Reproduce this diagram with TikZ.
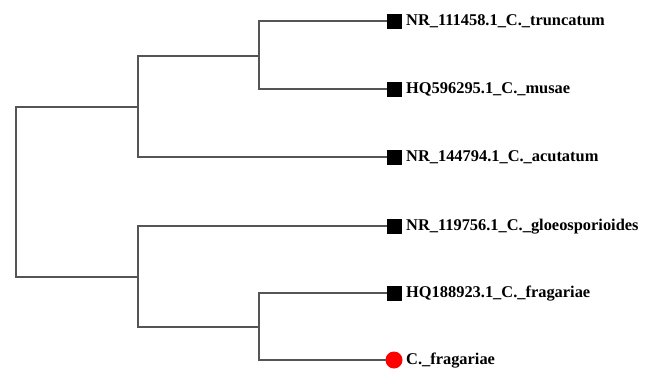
\documentclass[tikz,border=0pt]{standalone}
\usepackage{fontspec}
\setmainfont{Liberation Serif}
\definecolor{branchgray}{HTML}{555555}
\begin{document}
\begin{tikzpicture}[x=1pt,y=-1pt,
  branch/.style={draw=branchgray, line width=1.3pt, line cap=rect},
  sq/.style={rectangle, fill=black, minimum width=15pt, minimum height=15pt, inner sep=0pt},
  reddot/.style={circle, fill=red, minimum size=17pt, inner sep=0pt},
  lbl/.style={anchor=base west, inner sep=0pt, font=\bfseries\fontsize{16.4}{16.4}\selectfont}]
\useasboundingbox (0,0) rectangle (652,372);
% internal nodes
\coordinate (root) at (16,107);
\coordinate (rootB) at (16,277);
\coordinate (A) at (138,107);
\coordinate (A1) at (259,56);
\coordinate (B) at (138,277);
\coordinate (B1) at (259,327);
% leaf markers
\node[sq] (m1) at (394,21) {};
\node[sq] (m2) at (394,89) {};
\node[sq] (m3) at (394,157) {};
\node[sq] (m4) at (394,226) {};
\node[sq] (m5) at (394,293) {};
\node[reddot] (m6) at (394,360) {};
% labels
\node[lbl] (t1) at (406,25.5) {NR\_111458.1\_C.\_truncatum};
\node[lbl] (t2) at (406,93.5) {HQ596295.1\_C.\_musae};
\node[lbl] (t3) at (406,161.5) {NR\_144794.1\_C.\_acutatum};
\node[lbl] (t4) at (406,230.5) {NR\_119756.1\_C.\_gloeosporioides};
\node[lbl] (t5) at (406,297.5) {HQ188923.1\_C.\_fragariae};
\node[lbl] (t6) at (406,364.5) {C.\_fragariae};
% branches
\draw[branch] (A) -- (root) -- (rootB) -- (B);
\draw[branch] (A1) -| (A |- m3) -- (m3.west);
\draw[branch] (A) |- (A1);
\draw[branch] (m1.west) -| (A1) |- (m2.west);
\draw[branch] (m4.west) -| (B) |- (B1);
\draw[branch] (m5.west) -| (B1) |- (m6.west);
\end{tikzpicture}
\end{document}
